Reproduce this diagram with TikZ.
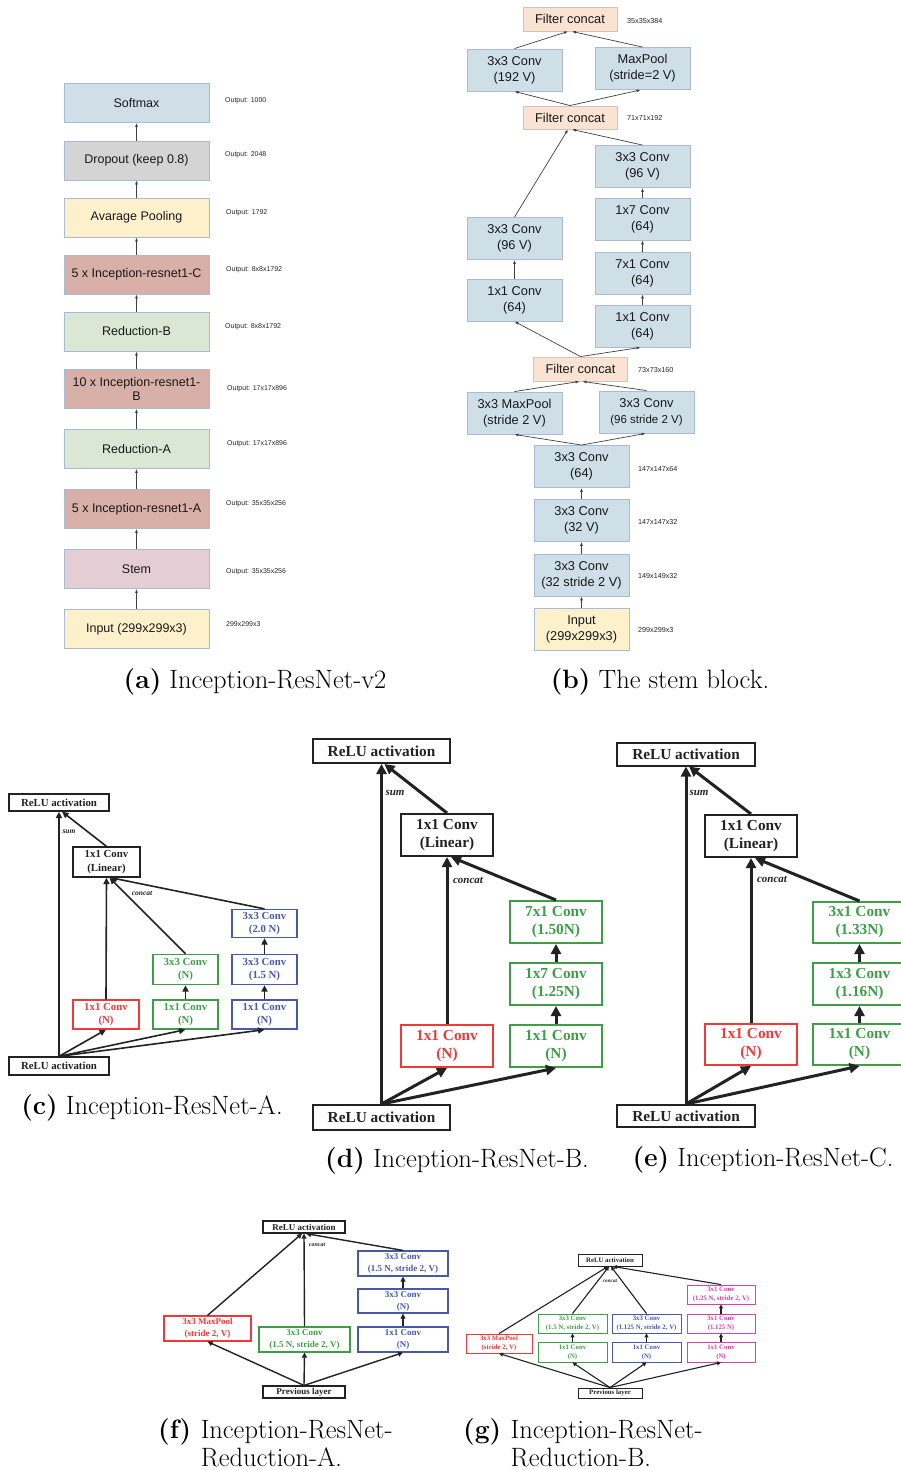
\documentclass[tikz,border=0pt]{standalone}
\usepackage{fontspec}
\newfontfamily\arialf{Liberation Sans}
\newfontfamily\timesf{Liberation Serif}
\usetikzlibrary{arrows.meta}

\definecolor{bordA}{HTML}{A7BBD5}
\definecolor{softc}{HTML}{CFDEE7}
\definecolor{dropc}{HTML}{D4D4D4}
\definecolor{yelc}{HTML}{FDF1CC}
\definecolor{incc}{HTML}{D9B0A7}
\definecolor{redbc}{HTML}{D9E7D4}
\definecolor{stemc}{HTML}{E5CDD5}
\definecolor{convc}{HTML}{CFDFE8}
\definecolor{concc}{HTML}{FAE3D2}
\definecolor{concb}{HTML}{D8C2B2}
\definecolor{blkc}{HTML}{222222}
\definecolor{redc}{HTML}{EE3A3A}
\definecolor{grnc}{HTML}{3E9E48}
\definecolor{bluc}{HTML}{4A58A8}
\definecolor{magc}{HTML}{D93FAF}

\tikzset{
  sz/.style 2 args={minimum width=#1, minimum height=#2},
  % panel (a)
  ab/.style={draw=bordA, line width=0.9pt, inner sep=0pt, align=center, text=black!90,
    font=\arialf\fontsize{12.5}{14}\selectfont, minimum width=145pt, minimum height=39pt},
  alab/.style={anchor=west, inner sep=0pt, text=black!85, font=\arialf\fontsize{7}{8}\selectfont},
  aarr/.style={draw=black!75, line width=0.7pt, -{Latex[length=4pt,width=3pt]}},
  % panel (b)
  bb/.style={draw=bordA, line width=0.9pt, inner sep=0pt, align=center, text=black!90, fill=convc,
    font=\arialf\fontsize{12.8}{16}\selectfont, minimum width=95pt, minimum height=42pt},
  bfc/.style={bb, fill=concc, draw=concb, minimum width=94pt, minimum height=24pt},
  blab/.style={alab, font=\arialf\fontsize{7.2}{8}\selectfont},
  % panels (c)-(g)
  cb/.style={draw=#1, text=#1, line width=1.3pt, inner sep=0pt, align=center, fill=white,
    font=\timesf\bfseries\fontsize{10.8}{13.5}\selectfont},
  cb/.default=blkc,
  carr/.style={draw=blkc, line width=1.6pt, -{Triangle[length=6.5pt,width=6pt]}},
  clab/.style={inner sep=0pt, text=blkc, font=\timesf\bfseries\itshape\fontsize{7.5}{9}\selectfont},
  db/.style={cb=#1, line width=2pt, font=\timesf\bfseries\fontsize{15.3}{18}\selectfont},
  db/.default=blkc,
  darr/.style={draw=blkc, line width=3pt, -{Triangle[length=10pt,width=10pt]}},
  dlab/.style={clab, font=\timesf\bfseries\itshape\fontsize{11}{12}\selectfont},
  fb/.style={cb=#1, line width=1.2pt, font=\timesf\bfseries\fontsize{9}{12}\selectfont},
  fb/.default=blkc,
  farr/.style={draw=blkc, line width=1.4pt, -{Triangle[length=5pt,width=5pt]}},
  flab/.style={clab, font=\timesf\bfseries\itshape\fontsize{6}{7}\selectfont},
  gb/.style={cb=#1, line width=0.9pt, font=\timesf\bfseries\fontsize{6.8}{9}\selectfont},
  gb/.default=blkc,
  garr/.style={draw=blkc, line width=1.1pt, -{Triangle[length=4pt,width=4pt]}},
  glab/.style={clab, font=\timesf\bfseries\itshape\fontsize{5.2}{6}\selectfont},
  captxt/.style={inner sep=0pt, anchor=base, font=\fontsize{26.5}{30}\selectfont},
}

\begin{document}
\begin{tikzpicture}[x=1pt,y=-1pt]
\useasboundingbox[fill=white] (0,0) rectangle (901,1470);

% ---------------- (a) Inception-ResNet-v2 ----------------
\node[ab, fill=softc] (aSoft) at (136.5,103) {Softmax};
\node[ab, fill=dropc] (aDrop) at (136.5,160.5) {Dropout (keep 0.8)};
\node[ab, fill=yelc] (aAvg) at (136.5,217.5) {Avarage Pooling};
\node[ab, fill=incc] (aIncC) at (136.5,274.5) {5 x Inception-resnet1-C};
\node[ab, fill=redbc] (aRedB) at (136.5,331.5) {Reduction-B};
\node[ab, fill=incc] (aIncB) at (136.5,389) {10 x Inception-resnet1-\\B};
\node[ab, fill=redbc] (aRedA) at (136.5,449) {Reduction-A};
\node[ab, fill=incc] (aIncA) at (136.5,509) {5 x Inception-resnet1-A};
\node[ab, fill=stemc] (aStem) at (136.5,569) {Stem};
\node[ab, fill=yelc] (aIn) at (136.5,629) {Input (299x299x3)};

\node[alab] (aL1) at (225,101) {Output: 1000};
\node[alab] (aL2) at (225,155) {Output: 2048};
\node[alab] (aL3) at (226,213) {Output: 1792};
\node[alab] (aL4) at (226,270) {Output: 8x8x1792};
\node[alab] (aL5) at (225,327) {Output: 8x8x1792};
\node[alab] (aL6) at (227,389) {Output: 17x17x896};
\node[alab] (aL7) at (227,444) {Output: 17x17x896};
\node[alab] (aL8) at (226,504) {Output: 35x35x256};
\node[alab] (aL9) at (226,572) {Output: 35x35x256};
\node[alab] (aL10) at (226,624) {299x299x3};

\foreach \lo/\hi in {aIn/aStem, aStem/aIncA, aIncA/aRedA, aRedA/aIncB, aIncB/aRedB,
                     aRedB/aIncC, aIncC/aAvg, aAvg/aDrop, aDrop/aSoft}
  \draw[aarr] (\lo.north) -- (\hi.south);

% ---------------- (b) stem block ----------------
\node[bfc] (bFc1) at (570,19) {Filter concat};
\node[bb] (bC192) at (514.5,70) {3x3 Conv\\(192 V)};
\node[bb] (bMp) at (642.5,68.5) {MaxPool\\(stride=2 V)};
\node[bfc, minimum height=23pt] (bFc2) at (570,117.5) {Filter concat};
\node[bb] (bR3) at (642.5,166.5) {3x3 Conv\\(96 V)};
\node[bb] (bR17) at (642.5,219) {1x7 Conv\\(64)};
\node[bb] (bR71) at (642.5,273) {7x1 Conv\\(64)};
\node[bb] (bR11) at (642.5,326) {1x1 Conv\\(64)};
\node[bb] (bL3) at (514.5,238.5) {3x3 Conv\\(96 V)};
\node[bb] (bL11) at (514.5,300) {1x1 Conv\\(64)};
\node[bfc] (bFc3) at (580.5,369) {Filter concat};
\node[bb] (bMp2) at (514.5,413) {3x3 MaxPool\\(stride 2 V)};
\node[bb] (bCs) at (646.5,412) {3x3 Conv\\{\fontsize{11.5}{16}\selectfont(96 stride 2 V)}};
\node[bb] (b64) at (581.5,466.5) {3x3 Conv\\(64)};
\node[bb] (b32) at (581.5,520.5) {3x3 Conv\\(32 V)};
\node[bb] (b32s) at (581.5,575) {3x3 Conv\\(32 stride 2 V)};
\node[bb, fill=yelc] (bIn) at (581.5,629) {Input\\(299x299x3)};

\node[blab] (bT1) at (627,21) {35x35x384};
\node[blab] (bT2) at (627,118) {71x71x192};
\node[blab] (bT3) at (638,370) {73x73x160};
\node[blab] (bT4) at (638,469) {147x147x64};
\node[blab] (bT5) at (638,522) {147x147x32};
\node[blab] (bT6) at (638,576) {149x149x32};
\node[blab] (bT7) at (638,630) {299x299x3};

\draw[aarr] (bC192.north) -- ([xshift=-2pt]bFc1.south);
\draw[aarr] (bMp.north) -- ([xshift=2pt]bFc1.south);
\draw[aarr] (bFc2.north) -- (bC192.south);
\draw[aarr] (bFc2.north) -- ([xshift=-2pt]bMp.south);
\draw[aarr] (bL3.north) -- ([xshift=-2pt]bFc2.south);
\draw[aarr] (bR3.north) -- ([xshift=2pt]bFc2.south);
\draw[aarr] (bL11.north) -- (bL3.south);
\draw[aarr] (bR11.north) -- (bR71.south);
\draw[aarr] (bR71.north) -- (bR17.south);
\draw[aarr] (bR17.north) -- (bR3.south);
\draw[aarr] (bFc3.north) -- (bL11.south);
\draw[aarr] (bFc3.north) -- ([xshift=-2pt]bR11.south);
\draw[aarr] (bMp2.north) -- ([xshift=-1pt]bFc3.south);
\draw[aarr] (bCs.north) -- ([xshift=2pt]bFc3.south);
\draw[aarr] (b64.north) -- (bMp2.south);
\draw[aarr] (b64.north) -- ([xshift=-1pt]bCs.south);
\draw[aarr] (b32.north) -- (b64.south);
\draw[aarr] (b32s.north) -- (b32.south);
\draw[aarr] (bIn.north) -- (b32s.south);

% ---------------- (c) Inception-ResNet-A ----------------
\node[cb, sz={100pt}{17pt}] (cTop) at (59,802.5) {ReLU activation};
\node[cb, sz={67pt}{30pt}] (cLin) at (106.5,862) {1x1 Conv\\(Linear)};
\node[cb=bluc, sz={65pt}{28pt}] (cB3) at (264.5,923.5) {3x3 Conv\\(2.0 N)};
\node[cb=grnc, sz={65pt}{30pt}] (cG3) at (185.5,969.5) {3x3 Conv\\(N)};
\node[cb=bluc, sz={65pt}{30pt}] (cB2) at (264.5,969.5) {3x3 Conv\\(1.5 N)};
\node[cb=redc, sz={66pt}{29pt}] (cR1) at (106,1014.5) {1x1 Conv\\(N)};
\node[cb=grnc, sz={65pt}{29pt}] (cG1) at (185.5,1014.5) {1x1 Conv\\(N)};
\node[cb=bluc, sz={65pt}{29pt}] (cB1) at (264.5,1014.5) {1x1 Conv\\(N)};
\node[cb, sz={100pt}{18pt}] (cBot) at (59,1066) {ReLU activation};
\node[clab] (cSum) at (69,832) {sum};
\node[clab] (cCat) at (142,893) {concat};

\draw[carr] (cBot.north) -- (cTop.south);
\draw[carr] (cLin.north) -- ([xshift=3pt]cTop.south);
\draw[carr] (cR1.north) -- (cLin.south);
\draw[carr] (cG3.north) -- ([xshift=3pt]cLin.south);
\draw[carr] (cB3.north) -- ([xshift=4pt]cLin.south);
\draw[carr] (cBot.north) -- (cR1.south);
\draw[carr] (cBot.north) -- (cG1.south);
\draw[carr] (cBot.north) -- (cB1.south);
\draw[carr] (cG1.north) -- (cG3.south);
\draw[carr] (cB1.north) -- (cB2.south);
\draw[carr] (cB2.north) -- (cB3.south);

% ---------------- (d) Inception-ResNet-B ----------------
\node[db, sz={137pt}{24pt}] (dTop) at (381.5,751) {ReLU activation};
\node[db, sz={92pt}{42pt}] (dLin) at (447,835) {1x1 Conv\\(Linear)};
\node[db=grnc, sz={92pt}{42pt}] (dG3) at (556,922) {7x1 Conv\\(1.50N)};
\node[db=grnc, sz={92pt}{42pt}] (dG2) at (556,984) {1x7 Conv\\(1.25N)};
\node[db=grnc, sz={92pt}{42pt}] (dG1) at (556,1046) {1x1 Conv\\(N)};
\node[db=redc, sz={92pt}{42pt}] (dR1) at (447,1046) {1x1 Conv\\(N)};
\node[db, sz={137pt}{25pt}] (dBot) at (381.5,1117.5) {ReLU activation};
\node[dlab] (dSum) at (395,793) {sum};
\node[dlab] (dCat) at (468,880) {concat};

\draw[darr] (dBot.north) -- (dTop.south);
\draw[darr] (dLin.north) -- ([xshift=3pt]dTop.south);
\draw[darr] (dR1.north) -- (dLin.south);
\draw[darr] (dG3.north) -- ([xshift=4pt]dLin.south);
\draw[darr] (dBot.north) -- (dR1.south);
\draw[darr] (dBot.north) -- (dG1.south);
\draw[darr] (dG1.north) -- (dG2.south);
\draw[darr] (dG2.north) -- (dG3.south);

% ---------------- (e) Inception-ResNet-C ----------------
\node[db, sz={138pt}{23pt}] (eTop) at (686,754) {ReLU activation};
\node[db, sz={92pt}{42pt}] (eLin) at (751,836) {1x1 Conv\\(Linear)};
\node[db=grnc, sz={93pt}{41pt}] (eG3) at (859.5,922.5) {3x1 Conv\\(1.33N)};
\node[db=grnc, sz={93pt}{42pt}] (eG2) at (859.5,984) {1x3 Conv\\(1.16N)};
\node[db=grnc, sz={93pt}{41pt}] (eG1) at (859.5,1044.5) {1x1 Conv\\(N)};
\node[db=redc, sz={92pt}{41pt}] (eR1) at (751,1044.5) {1x1 Conv\\(N)};
\node[db, sz={138pt}{22pt}] (eBot) at (686,1116) {ReLU activation};
\node[dlab] (eSum) at (699,793) {sum};
\node[dlab] (eCat) at (772,879) {concat};

\draw[darr] (eBot.north) -- (eTop.south);
\draw[darr] (eLin.north) -- ([xshift=3pt]eTop.south);
\draw[darr] (eR1.north) -- (eLin.south);
\draw[darr] (eG3.north) -- ([xshift=4pt]eLin.south);
\draw[darr] (eBot.north) -- (eR1.south);
\draw[darr] (eBot.north) -- (eG1.south);
\draw[darr] (eG1.north) -- (eG2.south);
\draw[darr] (eG2.north) -- (eG3.south);

% ---------------- (f) Reduction-A ----------------
\node[fb, sz={82pt}{12pt}] (fTop) at (304,1227) {ReLU activation};
\node[fb=bluc, sz={90pt}{25pt}] (fB3) at (403,1263.5) {3x3 Conv\\(1.5 N, stride 2, V)};
\node[fb=bluc, sz={90pt}{24pt}] (fB2) at (403,1301) {3x3 Conv\\(N)};
\node[fb=bluc, sz={90pt}{25pt}] (fB1) at (403,1339.5) {1x1 Conv\\(N)};
\node[fb=redc, sz={87pt}{25pt}] (fR) at (207.5,1328.5) {3x3 MaxPool\\(stride 2, V)};
\node[fb=grnc, sz={91pt}{25pt}] (fG) at (304.5,1339.5) {3x3 Conv\\(1.5 N, stride 2, V)};
\node[fb, sz={82pt}{12pt}] (fBot) at (304,1392) {Previous layer};
\node[flab] (fCat) at (317,1245) {concat};

\draw[farr] (fR.north) -- ([xshift=-2pt]fTop.south);
\draw[farr] (fG.north) -- (fTop.south);
\draw[farr] (fB3.north) -- ([xshift=2pt]fTop.south);
\draw[farr] (fBot.north) -- (fR.south);
\draw[farr] (fBot.north) -- (fG.south);
\draw[farr] (fBot.north) -- (fB1.south);
\draw[farr] (fB1.north) -- (fB2.south);
\draw[farr] (fB2.north) -- (fB3.south);

% ---------------- (g) Reduction-B ----------------
\node[gb, sz={64pt}{12pt}] (gTop) at (610,1260) {ReLU activation};
\node[gb=redc, sz={66pt}{19pt}] (gR) at (499,1343.5) {3x3 MaxPool\\(stride 2, V)};
\node[gb=grnc, sz={69pt}{19pt}] (gG2) at (572.5,1323.5) {3x3 Conv\\(1.5 N, stride 2, V)};
\node[gb=grnc, sz={69pt}{20pt}] (gG1) at (572.5,1352) {1x1 Conv\\(N)};
\node[gb=bluc, sz={69pt}{19pt}] (gB2) at (646.5,1323.5) {3x3 Conv\\(1.125 N, stride 2, V)};
\node[gb=bluc, sz={69pt}{20pt}] (gB1) at (646.5,1352) {1x1 Conv\\(N)};
\node[gb=magc, sz={68pt}{19pt}] (gM3) at (721,1294.5) {3x1 Conv\\(1.25 N, stride 2, V)};
\node[gb=magc, sz={68pt}{19pt}] (gM2) at (721,1323.5) {3x1 Conv\\(1.125 N)};
\node[gb=magc, sz={68pt}{20pt}] (gM1) at (721,1352) {1x1 Conv\\(N)};
\node[gb, sz={64pt}{10pt}] (gBot) at (610,1393) {Previous layer};
\node[glab] (gCat) at (610,1281) {concat};

\draw[garr] (gR.north) -- ([xshift=-2pt]gTop.south);
\draw[garr] (gG2.north) -- ([xshift=-1pt]gTop.south);
\draw[garr] (gB2.north) -- ([xshift=1pt]gTop.south);
\draw[garr] (gM3.north) -- ([xshift=3pt]gTop.south);
\draw[garr] (gBot.north) -- (gR.south);
\draw[garr] (gBot.north) -- (gG1.south);
\draw[garr] (gBot.north) -- (gB1.south);
\draw[garr] (gBot.north) -- (gM1.south);
\draw[garr] (gG1.north) -- (gG2.south);
\draw[garr] (gB1.north) -- (gB2.south);
\draw[garr] (gM1.north) -- (gM2.south);
\draw[garr] (gM2.north) -- (gM3.south);

% ---------------- captions ----------------
\node[captxt] (capA) at (255,688) {\textbf{(a)} Inception-ResNet-v2};
\node[captxt] (capB) at (660,688) {\textbf{(b)} The stem block.};
\node[captxt] (capC) at (152,1114) {\textbf{(c)} Inception-ResNet-A.};
\node[captxt] (capD) at (457,1167) {\textbf{(d)} Inception-ResNet-B.};
\node[captxt] (capE) at (763,1166) {\textbf{(e)} Inception-ResNet-C.};
\node[captxt, anchor=base west] (capFl) at (158,1438) {\textbf{(f)}};
\node[captxt, anchor=base west] (capF1) at ([xshift=9pt]capFl.base east) {Inception-ResNet-};
\node[captxt, anchor=base west] (capF2) at ([yshift=-28pt]capF1.base west) {Reduction-A.};
\node[captxt, anchor=base west] (capGl) at (463,1438) {\textbf{(g)}};
\node[captxt, anchor=base west] (capG1) at ([xshift=9pt]capGl.base east) {Inception-ResNet-};
\node[captxt, anchor=base west] (capG2) at ([yshift=-28pt]capG1.base west) {Reduction-B.};
\end{tikzpicture}
\end{document}
